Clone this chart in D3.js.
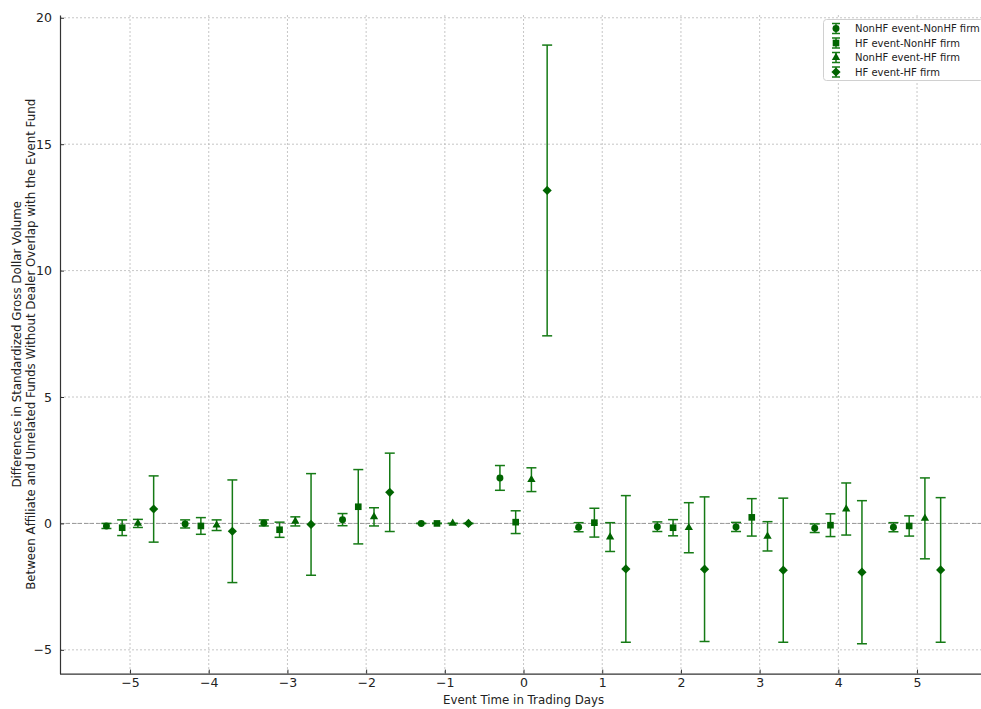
<!DOCTYPE html>
<html>
<head>
<meta charset="utf-8">
<script src="https://cdn.jsdelivr.net/npm/d3@7"></script>
<style>
html,body{margin:0;padding:0;background:#fff;}
svg{display:block;font-family:"DejaVu Sans",sans-serif;}
</style>
</head>
<body>
<svg id="chart" width="981" height="709"></svg>
<script>
// ---- data ----
const days = [-5,-4,-3,-2,-1,0,1,2,3,4,5];
const seriesNames = ["NonHF event-NonHF firm","HF event-NonHF firm","NonHF event-HF firm","HF event-HF firm"];
const seriesOffsets = [-0.3,-0.1,0.1,0.3];
const seriesMarkers = ["circle","square","triangle","diamond"];
const nnMean = [-0.10,-0.02, 0.02, 0.15, 0, 1.80,-0.15,-0.13,-0.14,-0.19,-0.15];
const nnErr  = [ 0.10, 0.16, 0.12, 0.24, 0, 0.49, 0.18, 0.19, 0.18, 0.17, 0.18];
const hnMean = [-0.17,-0.10,-0.25, 0.66, 0, 0.05, 0.03,-0.17, 0.24,-0.07,-0.10];
const hnErr  = [ 0.31, 0.33, 0.30, 1.47, 0, 0.45, 0.57, 0.32, 0.74, 0.45, 0.40];
const nhMean = [ 0.00,-0.07, 0.08, 0.26, 0, 1.73,-0.54,-0.17,-0.51, 0.57, 0.20];
const nhErr  = [ 0.16, 0.21, 0.18, 0.36, 0, 0.47, 0.57, 0.99, 0.58, 1.03, 1.60];
const hhMean = [ 0.57,-0.31,-0.04, 1.23, 0,13.17,-1.80,-1.81,-1.85,-1.93,-1.84];
const hhErr  = [ 1.31, 2.03, 2.01, 1.55, 0, 5.75, 2.90, 2.86, 2.85, 2.83, 2.86];
const xTicks = [-5,-4,-3,-2,-1,0,1,2,3,4,5];
const yTicks = [-5,0,5,10,15,20];
const xLabel = "Event Time in Trading Days";
const yLabel1 = "Differences in Standardized Gross Dollar Volume";
const yLabel2 = "Between Affiliate and Unrelated Funds Without Dealer Overlap with the Event Fund";

const means = [nnMean,hnMean,nhMean,hhMean];
const errs = [nnErr,hnErr,nhErr,hhErr];

// ---- layout ----
const svg = d3.select("#chart");
const mLeft = 60, mTop = 15, mBottom = 673.6;
const x = d3.scaleLinear().domain([-5.89,5.89]).range([mLeft, mLeft + 11.78*78.7]);
const y = d3.scaleLinear().domain([-5.94,20.11]).range([mBottom, mTop]);
const green = "#006400", ecol = "#157a15";

// grid
const grid = svg.append("g");
grid.selectAll("line.gx").data(xTicks).join("line")
  .attr("x1",d=>x(d)).attr("x2",d=>x(d)).attr("y1",mTop).attr("y2",mBottom)
  .attr("stroke","#b8b8b8").attr("stroke-width",0.8).attr("stroke-dasharray","2,2");
grid.selectAll("line.gy").data(yTicks).join("line")
  .attr("x1",mLeft).attr("x2",981).attr("y1",d=>y(d)).attr("y2",d=>y(d))
  .attr("stroke","#b8b8b8").attr("stroke-width",0.8).attr("stroke-dasharray","2,2");

// zero line
svg.append("line").attr("x1",mLeft).attr("x2",981).attr("y1",y(0)).attr("y2",y(0))
  .attr("stroke","#999").attr("stroke-width",1).attr("stroke-dasharray","4,2");

// axes
const fmt = d=>d<0?"\u2212"+Math.abs(d):d;
const xAxis = d3.axisBottom(x).tickValues(xTicks).tickSizeInner(-4).tickSizeOuter(0).tickPadding(5).tickFormat(fmt);
const yAxis = d3.axisLeft(y).tickValues(yTicks).tickSizeInner(-4).tickSizeOuter(0).tickPadding(8).tickFormat(fmt);
const gx = svg.append("g").attr("transform",`translate(0,${mBottom})`).call(xAxis);
const gy = svg.append("g").attr("transform",`translate(${mLeft},0)`).call(yAxis);
[gx,gy].forEach(g=>{
  g.select(".domain").attr("stroke","#333").attr("stroke-width",1.2);
  g.selectAll(".tick line").attr("stroke","#333");
  g.selectAll(".tick text").attr("fill","#222").attr("font-size",12.5).attr("font-family","DejaVu Sans");
});
gx.select(".domain").attr("d",`M${mLeft},0.5H981`);

svg.append("text").attr("x",x(0)).attr("y",704).attr("text-anchor","middle")
  .attr("font-size",11.8).attr("fill","#222").text(xLabel);
const ymid = (mTop+mBottom)/2;
svg.append("text").attr("transform",`translate(21,${ymid}) rotate(-90)`).attr("text-anchor","middle")
  .attr("font-size",11.8).attr("fill","#222").text(yLabel1);
svg.append("text").attr("transform",`translate(35,${ymid}) rotate(-90)`).attr("text-anchor","middle")
  .attr("font-size",11.8).attr("fill","#222").text(yLabel2);

// markers
function markerPath(type){
  if(type==="diamond") return "M0,-4.6L4.6,0L0,4.6L-4.6,0Z";
  const s = {circle:d3.symbolCircle,square:d3.symbolSquare,triangle:d3.symbolTriangle}[type];
  const size = {circle:38,square:44,triangle:30}[type];
  return d3.symbol().type(s).size(size)();
}

const capW = 5;
means.forEach((m,si)=>{
  const g = svg.append("g");
  days.forEach((d,i)=>{
    const cx = x(d+seriesOffsets[si]);
    const y1 = y(m[i]+errs[si][i]), y2 = y(m[i]-errs[si][i]);
    g.append("line").attr("x1",cx).attr("x2",cx).attr("y1",y1).attr("y2",y2).attr("stroke",ecol).attr("stroke-width",1.5);
    [y1,y2].forEach(yy=>g.append("line").attr("x1",cx-capW).attr("x2",cx+capW).attr("y1",yy).attr("y2",yy)
      .attr("stroke",ecol).attr("stroke-width",1.5));
    g.append("path").attr("d",markerPath(seriesMarkers[si]))
      .attr("transform",`translate(${cx},${y(m[i])})`)
      .attr("fill",green);
  });
});

// legend
const lg = svg.append("g");
lg.append("rect").attr("x",823.5).attr("y",19.5).attr("width",160).attr("height",61).attr("rx",3)
  .attr("fill","#fff").attr("fill-opacity",0.85).attr("stroke","#d0d0d0");
seriesNames.forEach((n,si)=>{
  const yy = 28.5 + si*14.5, cx = 836;
  lg.append("line").attr("x1",cx).attr("x2",cx).attr("y1",yy-5).attr("y2",yy+5).attr("stroke",ecol).attr("stroke-width",1.5);
  [yy-5,yy+5].forEach(v=>lg.append("line").attr("x1",cx-4).attr("x2",cx+4).attr("y1",v).attr("y2",v).attr("stroke",ecol).attr("stroke-width",1.5));
  lg.append("path").attr("d",markerPath(seriesMarkers[si])).attr("transform",`translate(${cx},${yy})`).attr("fill",green);
  lg.append("text").attr("x",855).attr("y",yy+3.5).attr("font-size",10).attr("fill","#222").text(n);
});
</script>
</body>
</html>
